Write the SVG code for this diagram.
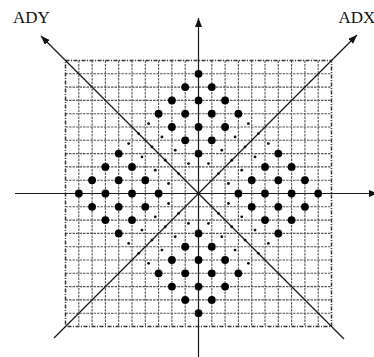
<svg xmlns="http://www.w3.org/2000/svg" xmlns:xlink="http://www.w3.org/1999/xlink" width="374" height="357" viewBox="0 0 374 357">
<style>
.grid{stroke:#555;stroke-width:1.1;stroke-dasharray:2.5,1;fill:none}
.border{stroke:#333;stroke-width:1.5;stroke-dasharray:4,1.5,1,1.5;fill:none}
.axis{stroke:#1a1a1a;stroke-width:1.2;fill:none}
.big{fill:#000}
.small{fill:#111}
.lbl{font-family:"Liberation Serif","Times New Roman",serif;font-size:17px;fill:#111}
</style>
<defs>
<marker id="arr" markerUnits="userSpaceOnUse" markerWidth="10" markerHeight="8" refX="9" refY="3.5" orient="auto">
<path d="M0,0 L9,3.5 L0,7 z" fill="#111"/>
</marker>
<g id="diamond">
<circle class="big" cx="0" cy="-119.7" r="3.9"/>
<circle class="big" cx="0" cy="-93.1" r="3.9"/>
<circle class="big" cx="0" cy="-66.5" r="3.9"/>
<circle class="big" cx="0" cy="-39.9" r="3.9"/>
<circle class="big" cx="13.3" cy="-106.4" r="3.9"/>
<circle class="big" cx="13.3" cy="-79.8" r="3.9"/>
<circle class="big" cx="13.3" cy="-53.2" r="3.9"/>
<circle class="big" cx="-13.3" cy="-106.4" r="3.9"/>
<circle class="big" cx="-13.3" cy="-79.8" r="3.9"/>
<circle class="big" cx="-13.3" cy="-53.2" r="3.9"/>
<circle class="big" cx="26.6" cy="-93.1" r="3.9"/>
<circle class="big" cx="26.6" cy="-66.5" r="3.9"/>
<circle class="big" cx="-26.6" cy="-93.1" r="3.9"/>
<circle class="big" cx="-26.6" cy="-66.5" r="3.9"/>
<circle class="big" cx="39.9" cy="-79.8" r="3.9"/>
<circle class="big" cx="-39.9" cy="-79.8" r="3.9"/>
</g>
<g id="smalls">
<circle class="small" cx="19.95" cy="-19.95" r="1.4"/>
<circle class="small" cx="33.25" cy="-33.25" r="1.4"/>
<circle class="small" cx="46.55" cy="-46.55" r="1.4"/>
<circle class="small" cx="59.85" cy="-59.85" r="1.4"/>
<circle class="small" cx="9.98" cy="-29.93" r="1.4"/>
<circle class="small" cx="23.28" cy="-43.23" r="1.4"/>
<circle class="small" cx="36.58" cy="-56.53" r="1.4"/>
<circle class="small" cx="49.88" cy="-69.83" r="1.4"/>
<circle class="small" cx="29.93" cy="-9.98" r="1.4"/>
<circle class="small" cx="43.23" cy="-23.28" r="1.4"/>
<circle class="small" cx="56.53" cy="-36.58" r="1.4"/>
<circle class="small" cx="69.83" cy="-49.88" r="1.4"/>
</g>
</defs>
<rect width="374" height="357" fill="#fff"/>
<g id="grid">
<path class="grid" d="M78.8,60.5V326.5M92.1,60.5V326.5M105.4,60.5V326.5M118.7,60.5V326.5M132,60.5V326.5M145.3,60.5V326.5M158.6,60.5V326.5M171.9,60.5V326.5M185.2,60.5V326.5M211.8,60.5V326.5M225.1,60.5V326.5M238.4,60.5V326.5M251.7,60.5V326.5M265,60.5V326.5M278.3,60.5V326.5M291.6,60.5V326.5M304.9,60.5V326.5M318.2,60.5V326.5"/>
<path class="grid" d="M65.5,73.8H331.5M65.5,87.1H331.5M65.5,100.4H331.5M65.5,113.7H331.5M65.5,127H331.5M65.5,140.3H331.5M65.5,153.6H331.5M65.5,166.9H331.5M65.5,180.2H331.5M65.5,206.8H331.5M65.5,220.1H331.5M65.5,233.4H331.5M65.5,246.7H331.5M65.5,260H331.5M65.5,273.3H331.5M65.5,286.6H331.5M65.5,299.9H331.5M65.5,313.2H331.5"/>
<rect class="border" x="65.5" y="60.5" width="266" height="266"/>
</g>
<g id="connectors">
<line class="axis" x1="198.5" y1="357" x2="198.5" y2="18" marker-end="url(#arr)"/>
<line class="axis" x1="15" y1="193.5" x2="378" y2="193.5" marker-end="url(#arr)"/>
<line class="axis" x1="54" y1="338" x2="357" y2="35" marker-end="url(#arr)"/>
<line class="axis" x1="344" y1="339" x2="41" y2="36" marker-end="url(#arr)"/>
</g>
<g id="dots" transform="translate(198.5 193.5)">
<use xlink:href="#diamond"/>
<use xlink:href="#diamond" transform="rotate(90)"/>
<use xlink:href="#diamond" transform="rotate(180)"/>
<use xlink:href="#diamond" transform="rotate(270)"/>
<use xlink:href="#smalls"/>
<use xlink:href="#smalls" transform="rotate(90)"/>
<use xlink:href="#smalls" transform="rotate(180)"/>
<use xlink:href="#smalls" transform="rotate(270)"/>
</g>
<g id="labels">
<text class="lbl" x="13" y="23">ADY</text>
<text class="lbl" x="338.5" y="23">ADX</text>
</g>
</svg>
